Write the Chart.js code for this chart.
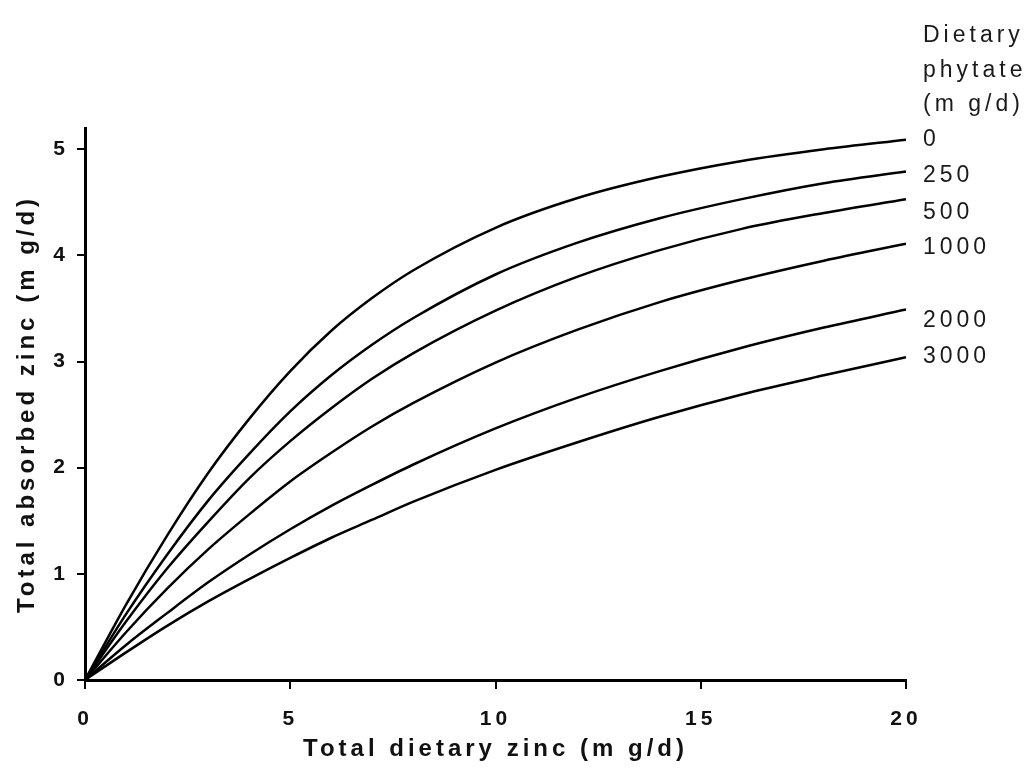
<!DOCTYPE html>
<html lang="en">
<head>
<meta charset="UTF-8">
<title>Total absorbed zinc vs total dietary zinc</title>
<script src="https://cdn.jsdelivr.net/npm/chart.js"></script>
<style>
  body { margin: 0; background: #fff; }
  .wrap { width: 1025px; height: 772px; }
</style>
</head>
<body>
<div class="wrap"><canvas id="zincChart"></canvas></div>
<script>
// total dietary zinc (mg/d) where the curves were read
const dietaryZinc = [0, 1, 2, 3, 4, 5, 6, 7, 8, 10, 12, 14, 16, 18, 20];

// total absorbed zinc (mg/d), one curve per phytate intake
const phytate0    = [0, 0.71, 1.36, 1.95, 2.46, 2.91, 3.29, 3.60, 3.86, 4.26, 4.54, 4.74, 4.89, 5.00, 5.09];
const phytate250  = [0, 0.62, 1.18, 1.69, 2.13, 2.53, 2.87, 3.16, 3.41, 3.82, 4.12, 4.35, 4.53, 4.68, 4.79];
const phytate500  = [0, 0.55, 1.05, 1.49, 1.90, 2.25, 2.56, 2.84, 3.08, 3.48, 3.80, 4.05, 4.25, 4.40, 4.53];
const phytate1000 = [0, 0.45, 0.86, 1.23, 1.56, 1.87, 2.14, 2.39, 2.61, 2.99, 3.30, 3.56, 3.77, 3.95, 4.11];
const phytate2000 = [0, 0.33, 0.63, 0.92, 1.18, 1.42, 1.64, 1.84, 2.03, 2.37, 2.66, 2.91, 3.13, 3.32, 3.49];
const phytate3000 = [0, 0.26, 0.51, 0.74, 0.95, 1.15, 1.34, 1.51, 1.68, 1.98, 2.24, 2.48, 2.69, 2.87, 3.04];

const phytateLabels = ['0', '250', '500', '1000', '2000', '3000'];
const headerLines = ['Dietary', 'phytate', '(m g/d)'];
const xTicks = [0, 5, 10, 15, 20];
const yTicks = [0, 1, 2, 3, 4, 5];

const allSeries = [phytate0, phytate250, phytate500, phytate1000, phytate2000, phytate3000];

// small vertical nudges (px) so the end labels sit like the original
const labelNudge = [-2, 2, 12, 2, 9, -2];
const headerBaselines = [42, 77, 111];

const endLabels = {
  id: 'endLabels',
  beforeDraw(chart) {
    chart.ctx.letterSpacing = '4px';
  },
  afterDraw(chart) {
    const ctx = chart.ctx;
    const y = chart.scales.y;
    const x0 = chart.chartArea.right + 17;
    ctx.save();
    ctx.font = '23px "Liberation Sans", Arial, sans-serif';
    ctx.fillStyle = '#1a1a1a';
    ctx.textAlign = 'left';
    ctx.textBaseline = 'alphabetic';
    headerLines.forEach((t, i) => ctx.fillText(t, x0, headerBaselines[i]));
    chart.data.datasets.forEach((ds, i) => {
      const last = ds.data[ds.data.length - 1];
      ctx.fillText(phytateLabels[i], x0, y.getPixelForValue(last.y) + labelNudge[i] + 8);
    });
    ctx.restore();
  }
};

const tickFont = { family: '"Liberation Sans", Arial, sans-serif', size: 21, weight: 'bold' };
const titleFont = { family: '"Liberation Sans", Arial, sans-serif', size: 24, weight: 'bold' };

new Chart(document.getElementById('zincChart'), {
  type: 'line',
  data: {
    datasets: allSeries.map((s, i) => ({
      label: phytateLabels[i],
      data: dietaryZinc.map((x, j) => ({ x: x, y: s[j] })),
      borderColor: '#000',
      borderWidth: 2.5,
      pointRadius: 0,
      fill: false,
      cubicInterpolationMode: 'monotone'
    }))
  },
  options: {
    responsive: true,
    maintainAspectRatio: false,
    animation: false,
    layout: { padding: { top: 128, right: 119, left: 0, bottom: 0 } },
    plugins: { legend: { display: false }, tooltip: { enabled: false } },
    scales: {
      x: {
        type: 'linear',
        min: 0,
        max: 20,
        afterBuildTicks: (scale) => { scale.ticks = xTicks.map(v => ({ value: v })); },
        afterFit: (scale) => { scale.height = 92; },
        border: { color: '#000', width: 3 },
        grid: { drawOnChartArea: false, color: '#000', lineWidth: 2, tickLength: 9 },
        ticks: { font: tickFont, color: '#111', padding: 18, maxRotation: 0 },
        title: { display: true, text: 'Total dietary zinc (m g/d)', font: titleFont, color: '#111',
                 padding: { top: 0, bottom: 8 } }
      },
      y: {
        type: 'linear',
        min: 0,
        max: 5.2,
        afterBuildTicks: (scale) => { scale.ticks = yTicks.map(v => ({ value: v })); },
        afterFit: (scale) => { scale.width = 85; },
        border: { color: '#000', width: 3 },
        grid: { drawOnChartArea: false, color: '#000', lineWidth: 2, tickLength: 8 },
        ticks: { font: tickFont, color: '#111', padding: 8 },
        title: { display: true, text: 'Total absorbed zinc (m g/d)', font: titleFont, color: '#111',
                 padding: { top: 13, bottom: 0 } }
      }
    }
  },
  plugins: [endLabels]
});
</script>
</body>
</html>
